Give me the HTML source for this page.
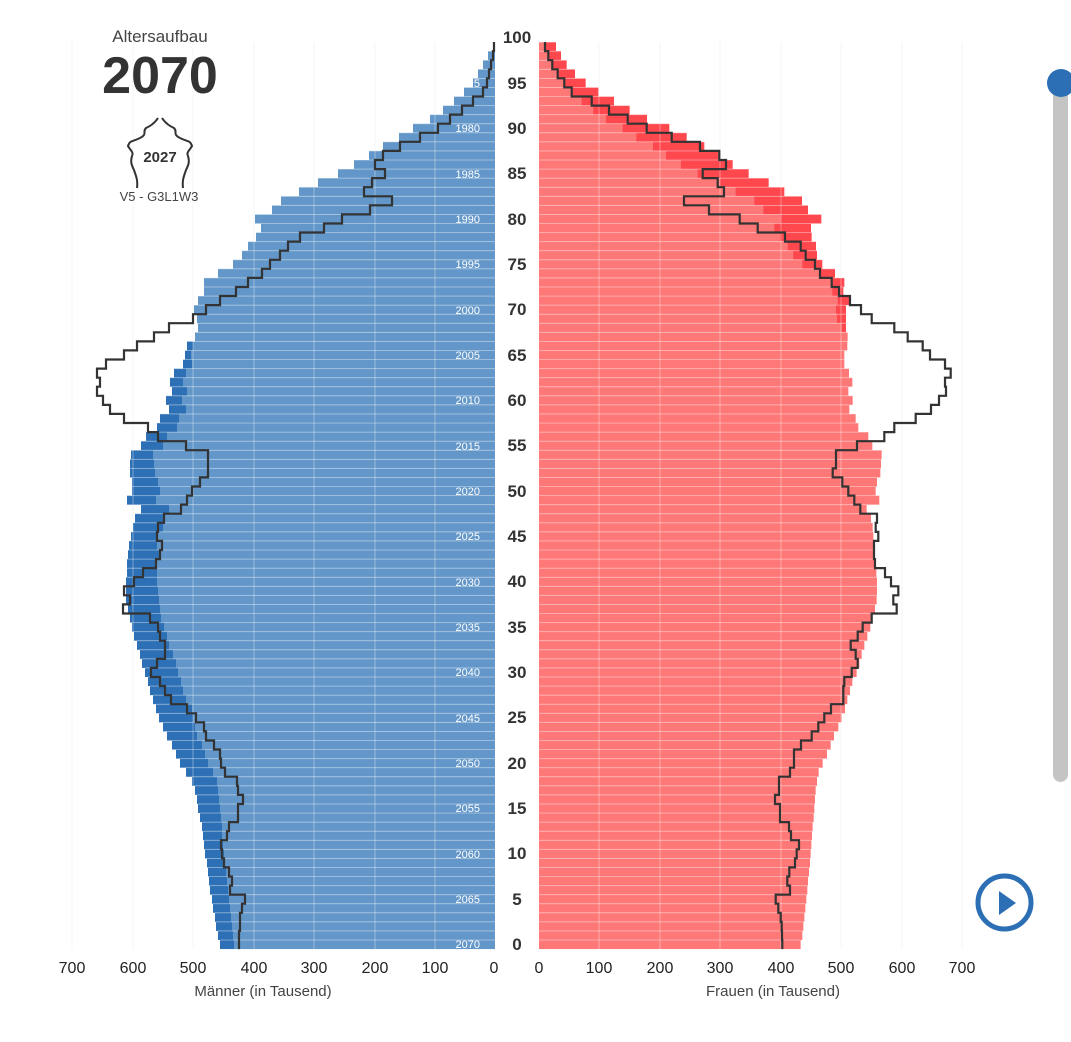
<!DOCTYPE html>
<html><head><meta charset="utf-8">
<style>
html,body{margin:0;padding:0;background:#fff;}
body{width:1071px;height:1042px;overflow:hidden;font-family:"Liberation Sans",sans-serif;}
svg{display:block;}
.age{font:bold 17px "Liberation Sans",sans-serif;fill:#333;text-anchor:middle;}
.yr{font:11px "Liberation Sans",sans-serif;fill:#fff;text-anchor:end;}
.tick{font:16px "Liberation Sans",sans-serif;fill:#222;text-anchor:middle;}
.ttl{font:15px "Liberation Sans",sans-serif;fill:#444;text-anchor:middle;}
</style></head><body>
<svg id="s" width="1071" height="1042" viewBox="0 0 1071 1042" xmlns="http://www.w3.org/2000/svg">
<g id="gridb" stroke="#f1f1f1" stroke-width="1"></g>
<g id="bars"></g>
<g id="gridf" stroke="rgba(255,255,255,0.35)" stroke-width="1"></g>
<g id="seps"></g>
<g id="lines" fill="none" stroke="#333" stroke-width="2.2" stroke-linejoin="miter"></g>

<text x="160" y="42" text-anchor="middle" style="font:17px 'Liberation Sans',sans-serif;fill:#444">Altersaufbau</text>
<text x="160" y="93" text-anchor="middle" style="font:bold 52px 'Liberation Sans',sans-serif;fill:#333">2070</text>
<path d="M158,118 C154,124 150,126 146,128 C142,132 148,134 140,138 C132,142 130,140 128,146 C130,150 134,152 132,156 C130,162 132,166 134,170 C136,176 138,180 137,188 M162,118 C166,124 170,126 174,128 C178,132 172,134 180,138 C188,142 190,140 192,146 C190,150 186,152 188,156 C190,162 188,166 186,170 C184,176 182,180 183,188" fill="none" stroke="#333" stroke-width="2"/>
<text x="160" y="162" text-anchor="middle" style="font:bold 15px 'Liberation Sans',sans-serif;fill:#333">2027</text>
<text x="159" y="201" text-anchor="middle" style="font:13px 'Liberation Sans',sans-serif;fill:#444">V5 - G3L1W3</text>

<g>
<text class="age" x="517" y="43">100</text>
<text class="age" x="517" y="89">95</text>
<text class="age" x="517" y="134">90</text>
<text class="age" x="517" y="179">85</text>
<text class="age" x="517" y="225">80</text>
<text class="age" x="517" y="270">75</text>
<text class="age" x="517" y="315">70</text>
<text class="age" x="517" y="361">65</text>
<text class="age" x="517" y="406">60</text>
<text class="age" x="517" y="451">55</text>
<text class="age" x="517" y="497">50</text>
<text class="age" x="517" y="542">45</text>
<text class="age" x="517" y="587">40</text>
<text class="age" x="517" y="633">35</text>
<text class="age" x="517" y="678">30</text>
<text class="age" x="517" y="723">25</text>
<text class="age" x="517" y="769">20</text>
<text class="age" x="517" y="814">15</text>
<text class="age" x="517" y="859">10</text>
<text class="age" x="517" y="905">5</text>
<text class="age" x="517" y="950">0</text>
</g>
<g>
<text class="yr" x="480" y="87">5</text>
<text class="yr" x="480" y="132">1980</text>
<text class="yr" x="480" y="178">1985</text>
<text class="yr" x="480" y="223">1990</text>
<text class="yr" x="480" y="268">1995</text>
<text class="yr" x="480" y="314">2000</text>
<text class="yr" x="480" y="359">2005</text>
<text class="yr" x="480" y="404">2010</text>
<text class="yr" x="480" y="450">2015</text>
<text class="yr" x="480" y="495">2020</text>
<text class="yr" x="480" y="540">2025</text>
<text class="yr" x="480" y="586">2030</text>
<text class="yr" x="480" y="631">2035</text>
<text class="yr" x="480" y="676">2040</text>
<text class="yr" x="480" y="722">2045</text>
<text class="yr" x="480" y="767">2050</text>
<text class="yr" x="480" y="812">2055</text>
<text class="yr" x="480" y="858">2060</text>
<text class="yr" x="480" y="903">2065</text>
<text class="yr" x="480" y="948">2070</text>
</g>
<g>
<text class="tick" x="72" y="973">700</text>
<text class="tick" x="133" y="973">600</text>
<text class="tick" x="193" y="973">500</text>
<text class="tick" x="254" y="973">400</text>
<text class="tick" x="314" y="973">300</text>
<text class="tick" x="375" y="973">200</text>
<text class="tick" x="435" y="973">100</text>
<text class="tick" x="494" y="973">0</text>
<text class="tick" x="539" y="973">0</text>
<text class="tick" x="599" y="973">100</text>
<text class="tick" x="660" y="973">200</text>
<text class="tick" x="720" y="973">300</text>
<text class="tick" x="781" y="973">400</text>
<text class="tick" x="841" y="973">500</text>
<text class="tick" x="902" y="973">600</text>
<text class="tick" x="962" y="973">700</text>
<text class="ttl" x="263" y="996">Männer (in Tausend)</text>
<text class="ttl" x="773" y="996">Frauen (in Tausend)</text>
</g>

<rect x="1053" y="82" width="15" height="700" rx="7.5" fill="#c4c4c4"/>
<circle cx="1061" cy="83" r="14" fill="#2c6fb5"/>
<circle cx="1004.5" cy="902.5" r="26.5" fill="none" stroke="#2c6fb5" stroke-width="5"/>
<path d="M999,891 L1016,903 L999,915 Z" fill="#2c6fb5"/>
</svg>
<script>
(function(){
var NS="http://www.w3.org/2000/svg";
function el(p,t,a){var e=document.createElementNS(NS,t);for(var k in a)e.setAttribute(k,a[k]);p.appendChild(e);return e;}
var H=9.07;function top(a){return 33+H*(100-a);}
// left arrays: ages 99..0
var LL=[493,488,483,478,473,464,454,443,430,413,399,383,369,354,338,318,299,281,272,255,261,256,248,242,233,218,204,204,198,194,197,198,195,
193,191,192,186,183,187,182,186,179,177,167,163,153,154,155,158,160,156,169,163,163,157,157,159,155,157,157,158,159,160,161,164,167,169,173,176,178,181,183,186,192,193,195,197,202,205,208,213,217,218,219,220,221,222,222,223,224,225,226,227,228,229,230,231,232,233,234];
var LDlow=[187,185,183,174,170,172,166,169,160,157,146,141,131,130,130,132,132,127,141,135,133,131,129,128,127,127,126,126,126,128,130,132,134,137,140,142,145,148,150,153,156,159,163,167,172,176,180,186,192,195,197,198,200,202,203,204,205,207,208,209,210,212,213,215,216,218,220];
var Lline=[494,494,493,491,489,487,483,473,462,450,438,420,400,383,375,385,372,364,392,370,342,324,300,288,280,270,262,248,236,220,206,193,169,154,
137,124,106,97,100,97,103,110,124,148,158,186,208,208,208,200,192,187,181,164,158,157,162,160,156,143,134,124,130,123,150,158,160,165,165,157,151,160,165,171,187,196,204,206,214,220,221,225,237,238,243,238,238,229,227,221,222,224,229,232,230,245,242,240,240,239,239];
// right (zoom units, orig=535+z/3) ages 99..0
var RL=[30,40,50,65,85,110,140,175,213,263,304,354,393,438,488,555,602,658,685,737,718,735,758,775,802,855,893,892,908,903,906,920,938,
937,928,928,942,952,940,953,943,962,970,1000,1012,1040,1038,1036,1026,1022,1033,995,1008,1013,1015,1015,1018,1022,1024,1026,1026,1025,1020,1012,1006,997,988,980,
973,965,952,945,937,930,920,910,897,887,876,863,851,846,842,840,838,836,833,831,829,827,825,822,819,817,814,811,808,805,802,797];
var RDtop=[63,78,95,120,152,190,237,284,336,403,455,508,550,593,641,701,748,801,819,859,828,830,843,846,862,900,928,925,943,933,933,933,938];
var Rline=[30,30,40,52,68,88,110,170,222,278,335,410,495,553,573,503,548,567,447,522,614,668,750,797,812,840,855,890,912,945,978,1010,1078,1118,
1163,1185,1230,1247,1230,1233,1212,1188,1142,1078,1048,966,903,903,893,922,940,958,976,1026,1022,1030,1017,1017,1020,1050,1068,1090,1075,1085,1010,983,968,947,962,
968,950,928,925,925,888,868,850,830,798,777,777,765,732,732,720,735,735,762,768,792,785,780,763,757,765,722,730,737,740,741,742];
var bars=document.getElementById('bars'),seps=document.getElementById('seps'),lines=document.getElementById('lines');
var LB='#6397c9',DB='#2d70b5',LR='#ff7878',DR='#ff474e';
for(var i=0;i<100;i++){
 var a=99-i,y=top(a);
 var l=LL[i], d=(a<=66)?LDlow[66-a]:l;
 if(d<l) el(bars,'rect',{x:d,y:y,width:l-d+0.5,height:H,fill:DB});
 el(bars,'rect',{x:l,y:y,width:495-l,height:H,fill:LB});
 var rl=535+RL[i]/3, rd=(a>=67)?535+RDtop[i]/3:rl;
 if(rd>rl) el(bars,'rect',{x:rl-0.5,y:y,width:rd-rl+0.5,height:H,fill:DR});
 el(bars,'rect',{x:539,y:y,width:Math.max(0,rl-539),height:H,fill:LR});
 var sx=Math.min(d,l);
 el(seps,'rect',{x:sx,y:y-0.4,width:495-sx,height:0.9,fill:'rgba(255,255,255,0.4)'});
 el(seps,'rect',{x:539,y:y-0.4,width:Math.max(rl,rd)-539,height:0.9,fill:'rgba(255,255,255,0.4)'});
}
var gx=[72,133,193,254,314,375,435,599,660,720,781,841,902,962];
var gb=document.getElementById('gridb'),gf=document.getElementById('gridf');
gx.forEach(function(x){el(gb,'line',{x1:x,y1:42,x2:x,y2:949});el(gf,'line',{x1:x,y1:42,x2:x,y2:949});});
function path(arr,conv){
 var p='';
 for(var i=0;i<arr.length;i++){var a=100-i;var x=conv(arr[i]);var y0=(a==100)?42:top(a),y1=top(a)+H;
  p+=(i==0?'M':'L')+x.toFixed(1)+','+y0.toFixed(1)+' L'+x.toFixed(1)+','+y1.toFixed(1)+' ';}
 return p;}
el(lines,'path',{d:path(Lline,function(v){return v;})});
el(lines,'path',{d:path(Rline,function(v){return 535+v/3;})});
})();
</script>
</body></html>
